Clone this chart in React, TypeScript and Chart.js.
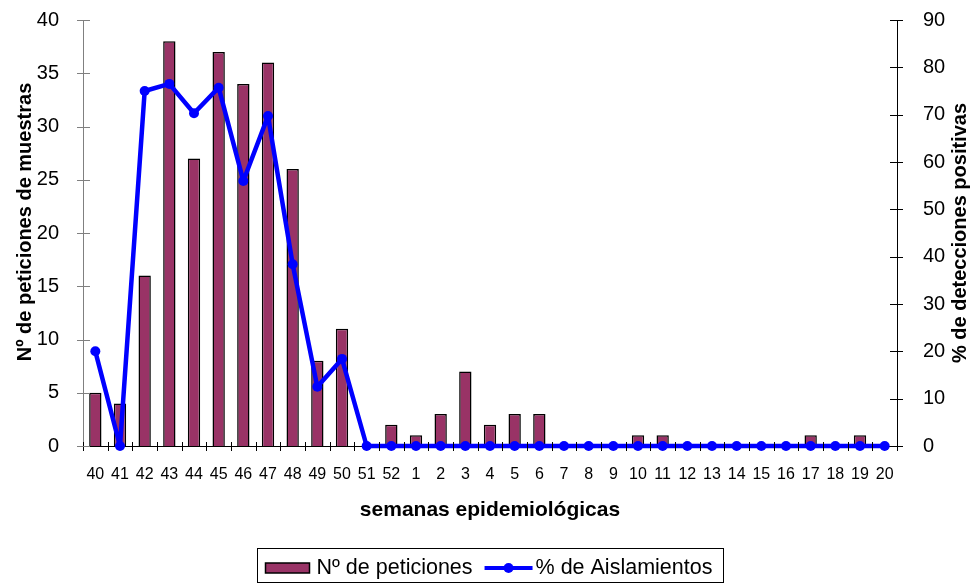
import React, { useEffect, useRef } from "react";
import { Chart, registerables } from "chart.js";

Chart.register(...registerables);

const weeks = [
  "40", "41", "42", "43", "44", "45", "46", "47", "48", "49", "50", "51", "52",
  "1", "2", "3", "4", "5", "6", "7", "8", "9", "10", "11", "12", "13", "14",
  "15", "16", "17", "18", "19", "20",
];
const requests = [
  5, 4, 16, 38, 27, 37, 34, 36, 26, 8, 11, 0, 2,
  1, 3, 7, 2, 3, 3, 0, 0, 0, 1, 1, 0, 0, 0,
  0, 0, 1, 0, 1, 0,
];
const isolationPct = [
  20, 0, 75, 76.5, 70.3, 75.7, 56, 69.7, 38.4, 12.5, 18.4, 0, 0,
  0, 0, 0, 0, 0, 0, 0, 0, 0, 0, 0, 0, 0, 0,
  0, 0, 0, 0, 0, 0,
];
const leftMax = 40;
const leftStep = 5;
const rightMax = 90;
const rightStep = 10;

const barLabel = "Nº de peticiones";
const lineLabel = "% de Aislamientos";
const xTitle = "semanas epidemiológicas";
const leftTitle = "Nº de peticiones de muestras";
const rightTitle = "% de detecciones positivas";

const FONT = "'Liberation Sans', Arial, Helvetica, sans-serif";
const BAR_COLOR = "#993366";
const LINE_COLOR = "#0000FF";

const tickPlugin = {
  id: "crossTicks",
  afterDraw(chart: any) {
    const ctx = chart.ctx;
    const { x, y, y1 } = chart.scales;
    const ca = chart.chartArea;
    ctx.save();
    ctx.lineWidth = 1;
    // x ticks at category boundaries
    ctx.strokeStyle = "#000";
    const n = weeks.length;
    const w = (x.right - x.left) / n;
    for (let i = 0; i <= n; i++) {
      const px = Math.round(x.left + i * w) + 0.5;
      ctx.beginPath();
      ctx.moveTo(px, x.top - 4);
      ctx.lineTo(px, x.top + 5);
      ctx.stroke();
    }
    // left ticks
    ctx.strokeStyle = "#808080";
    for (let v = 0; v <= leftMax; v += leftStep) {
      const py = Math.round(y.getPixelForValue(v)) + 0.5;
      ctx.beginPath();
      ctx.moveTo(y.right - 6, py);
      ctx.lineTo(y.right + 7, py);
      ctx.stroke();
    }
    // right ticks
    ctx.strokeStyle = "#000";
    for (let v = 0; v <= rightMax; v += rightStep) {
      const py = Math.round(y1.getPixelForValue(v)) + 0.5;
      ctx.beginPath();
      ctx.moveTo(y1.left - 7, py);
      ctx.lineTo(y1.left + 6, py);
      ctx.stroke();
    }

    // vertical axis titles (both read bottom-to-top)
    ctx.fillStyle = "#000";
    ctx.font = "bold 20px " + FONT;
    ctx.textAlign = "center";
    ctx.textBaseline = "middle";
    ctx.save();
    ctx.translate(25, (ca.top + ca.bottom) / 2 - 11);
    ctx.rotate(-Math.PI / 2);
    ctx.fillText(leftTitle, 0, 0);
    ctx.restore();
    ctx.save();
    ctx.translate(chart.width - 12, (ca.top + ca.bottom) / 2);
    ctx.rotate(-Math.PI / 2);
    ctx.fillText(rightTitle, 0, 0);
    ctx.restore();

    // legend
    const cx = (ca.left + ca.right) / 2;
    ctx.font = "21.5px " + FONT;
    const t1 = ctx.measureText(barLabel).width;
    const t2 = ctx.measureText(lineLabel).width;
    const sw1 = 44, sw2 = 48, gap = 7, between = 12, padX = 8, padR = 11;
    const total = padX + sw1 + gap + t1 + between + sw2 + 3 + t2 + padR;
    const bx = Math.round(cx - total / 2) + 0.5;
    const by = 548.5;
    const bh = 34;
    ctx.strokeStyle = "#000";
    ctx.lineWidth = 1;
    ctx.strokeRect(bx, by, Math.round(total), bh);
    const my = 568;
    let cur = bx + padX;
    ctx.fillStyle = BAR_COLOR;
    ctx.fillRect(cur, my - 5, sw1, 10);
    ctx.lineWidth = 1.5;
    ctx.strokeRect(cur, my - 5, sw1, 10);
    cur += sw1 + gap;
    ctx.fillStyle = "#000";
    ctx.textBaseline = "middle";
    ctx.textAlign = "left";
    ctx.fillText(barLabel, cur, my);
    cur += t1 + between;
    ctx.strokeStyle = LINE_COLOR;
    ctx.lineWidth = 4;
    ctx.beginPath();
    ctx.moveTo(cur, my);
    ctx.lineTo(cur + sw2, my);
    ctx.stroke();
    ctx.fillStyle = LINE_COLOR;
    ctx.beginPath();
    ctx.arc(cur + sw2 / 2, my, 5, 0, Math.PI * 2);
    ctx.fill();
    cur += sw2 + 3;
    ctx.fillStyle = "#000";
    ctx.fillText(lineLabel, cur, my);
    ctx.restore();
  },
};

export default function App() {
  const ref = useRef<HTMLCanvasElement | null>(null);

  useEffect(() => {
    if (!ref.current) return;
    const chart = new Chart(ref.current, {
      type: "bar",
      data: {
        labels: weeks,
        datasets: [
          {
            type: "bar",
            label: barLabel,
            data: requests,
            backgroundColor: BAR_COLOR,
            borderColor: "#000",
            borderWidth: 1.5,
            barPercentage: 0.5,
            categoryPercentage: 1.0,
            yAxisID: "y",
            order: 1,
          },
          {
            type: "line",
            label: lineLabel,
            data: isolationPct,
            borderColor: LINE_COLOR,
            backgroundColor: LINE_COLOR,
            borderWidth: 4.5,
            borderJoinStyle: "round",
            borderCapStyle: "round",
            pointRadius: 5,
            pointBorderWidth: 0,
            pointBackgroundColor: LINE_COLOR,
            tension: 0,
            yAxisID: "y1",
            order: 0,
            clip: false,
          } as any,
        ],
      },
      options: {
        animation: false,
        responsive: false,
        devicePixelRatio: 1,
        layout: { padding: { top: 20, left: 0, right: 0, bottom: 0 } },
        plugins: {
          legend: { display: false },
          tooltip: { enabled: false },
        },
        scales: {
          x: {
            type: "category",
            offset: true,
            grid: { display: false },
            border: { color: "#000", width: 1 },
            ticks: {
              color: "#000",
              font: { family: FONT, size: 16 },
              maxRotation: 0,
              autoSkip: false,
              padding: 11,
            },
            title: {
              display: true,
              text: xTitle,
              color: "#000",
              font: { family: FONT, size: 21, weight: "bold" },
              padding: { top: 0, bottom: 60 },
            },
            afterFit: (s: any) => {
              s.height = 137;
            },
          },
          y: {
            position: "left",
            min: 0,
            max: leftMax,
            grid: { display: false },
            border: { color: "#808080", width: 1 },
            ticks: {
              stepSize: leftStep,
              color: "#000",
              font: { family: FONT, size: 20 },
              padding: 16,
            },
            afterFit: (s: any) => {
              s.width = 83;
              s.paddingTop = 0;
              s.paddingBottom = 0;
            },
          },
          y1: {
            position: "right",
            min: 0,
            max: rightMax,
            grid: { display: false },
            border: { color: "#000", width: 1 },
            ticks: {
              stepSize: rightStep,
              color: "#000",
              font: { family: FONT, size: 20 },
              padding: 18,
            },
            afterFit: (s: any) => {
              s.width = 75;
              s.paddingTop = 0;
              s.paddingBottom = 0;
            },
          },
        },
      } as any,
      plugins: [tickPlugin],
    });
    return () => chart.destroy();
  }, []);

  return (
    <div style={{ position: "fixed", left: 0, top: 0, width: 972, height: 583, background: "#fff" }}>
      <canvas ref={ref} width={972} height={583} style={{ display: "block", width: 972, height: 583 }} />
    </div>
  );
}
